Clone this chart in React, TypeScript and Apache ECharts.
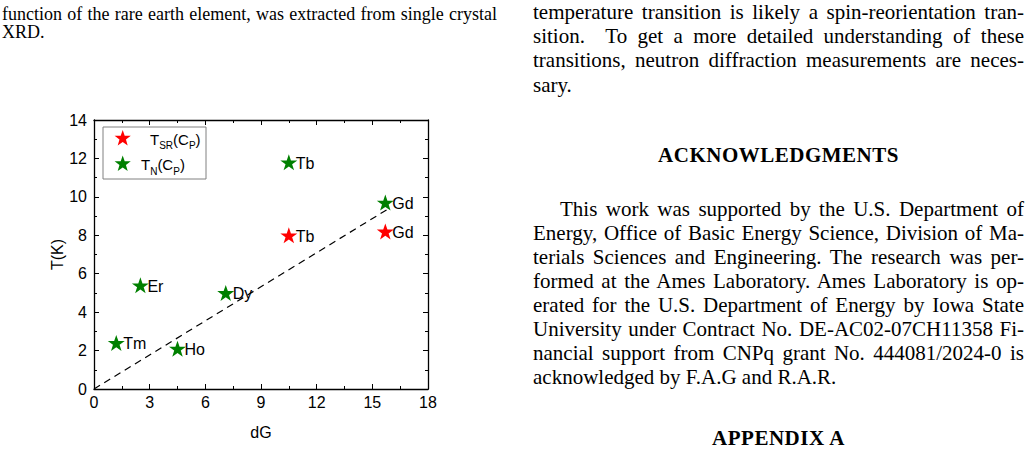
import React, { useEffect, useRef } from "react";
import * as echarts from "echarts";

// ---------------- data ----------------
const tsrPoints: [number, number, string][] = [
  [10.5, 8.0, "Tb"],
  [15.7, 8.2, "Gd"],
];
const tnPoints: [number, number, string][] = [
  [1.2, 2.4, "Tm"],
  [2.5, 5.4, "Er"],
  [4.5, 2.1, "Ho"],
  [7.1, 5.0, "Dy"],
  [10.5, 11.8, "Tb"],
  [15.7, 9.7, "Gd"],
];
const fitLine: [number, number][] = [
  [0, 0],
  [15.9, 9.4],
];
const xRange = { min: 0, max: 18, interval: 3 };
const yRange = { min: 0, max: 14, interval: 2 };
const xName = "dG";
const yName = "T(K)";

// ---------------- page text ----------------
const captionLines = [
  "function of the rare earth element, was extracted from single crystal",
  "XRD.",
];
const para1Lines = [
  "temperature transition is likely a spin-reorientation tran-",
  "sition.  To get a more detailed understanding of these",
  "transitions, neutron diffraction measurements are neces-",
  "sary.",
];
const ackTitle = "ACKNOWLEDGMENTS";
const ackLines = [
  "This work was supported by the U.S. Department of",
  "Energy, Office of Basic Energy Science, Division of Ma-",
  "terials Sciences and Engineering. The research was per-",
  "formed at the Ames Laboratory. Ames Laboratory is op-",
  "erated for the U.S. Department of Energy by Iowa State",
  "University under Contract No. DE-AC02-07CH11358 Fi-",
  "nancial support from CNPq grant No. 444081/2024-0 is",
  "acknowledged by F.A.G and R.A.R.",
];
const appendixTitle = "APPENDIX A";

const RED = "#ff0000";
const GREEN = "#008000";
const SANS = "'Liberation Sans', Arial, sans-serif";
const SERIF = "'Liberation Serif', 'Times New Roman', serif";
const STAR =
  "path://M50,0L61.8,35.1L97.6,35.1L68.5,56.7L79.4,91L50,70L20.6,91L31.5,56.7L2.4,35.1L38.2,35.1Z";

function starPoints(cx: number, cy: number, R: number): number[][] {
  const pts: number[][] = [];
  const r = R * 0.4;
  for (let i = 0; i < 10; i++) {
    const a = -Math.PI / 2 + (i * Math.PI) / 5;
    const rr = i % 2 === 0 ? R : r;
    pts.push([cx + rr * Math.cos(a), cy + rr * Math.sin(a)]);
  }
  return pts;
}

const axisCommon = {
  axisLine: { show: true, onZero: false, lineStyle: { color: "#000", width: 1.3 } },
  axisTick: { show: true, inside: true, length: 5, lineStyle: { color: "#000", width: 1 } },
  minorTick: { show: true, splitNumber: 2, length: 3, lineStyle: { color: "#000", width: 1 } },
  splitLine: { show: false },
};

const pointLabel = {
  show: true,
  position: "right",
  distance: 0,
  offset: [-1.5, 1],
  formatter: (p: any) => p.value[2],
  color: "#000",
  fontSize: 16,
  fontFamily: SANS,
};

function buildOption(): any {
  const gridLeft = 94;
  const gridTop = 120;
  const gridRight = 1030 - 428;
  const gridBottom = 453 - 389;
  return {
    animation: false,
    backgroundColor: "transparent",
    grid: { left: gridLeft, top: gridTop, right: gridRight, bottom: gridBottom, containLabel: false },
    xAxis: [
      {
        type: "value",
        position: "bottom",
        ...xRange,
        ...axisCommon,
        axisLabel: { show: true, margin: 5, color: "#000", fontSize: 16, fontFamily: SANS },
        name: xName,
        nameLocation: "middle",
        nameGap: 35,
        nameTextStyle: { color: "#000", fontSize: 16, fontFamily: SANS },
      },
      {
        type: "value",
        position: "top",
        ...xRange,
        ...axisCommon,
        axisLabel: { show: false },
      },
    ],
    yAxis: [
      {
        type: "value",
        position: "left",
        ...yRange,
        ...axisCommon,
        axisLabel: { show: true, margin: 7, color: "#000", fontSize: 16, fontFamily: SANS },
        name: yName,
        nameLocation: "middle",
        nameGap: 20,
        nameRotate: 90,
        nameTextStyle: { color: "#000", fontSize: 16, fontFamily: SANS },
      },
      {
        type: "value",
        position: "right",
        ...yRange,
        ...axisCommon,
        axisLabel: { show: false },
      },
    ],
    series: [
      {
        type: "line",
        data: fitLine,
        symbol: "none",
        silent: true,
        lineStyle: { color: "#000", width: 1.2, type: [7, 5] },
        z: 1,
      },
      {
        type: "scatter",
        name: "TSR",
        data: tsrPoints,
        symbol: STAR,
        symbolSize: [17, 16],
        itemStyle: { color: RED, opacity: 1 },
        label: pointLabel,
        z: 3,
      },
      {
        type: "scatter",
        name: "TN",
        data: tnPoints,
        symbol: STAR,
        symbolSize: [17, 16],
        itemStyle: { color: GREEN, opacity: 1 },
        label: pointLabel,
        z: 3,
      },
    ],
    graphic: [
      {
        type: "rect",
        shape: { x: 103, y: 127, width: 103, height: 52 },
        style: { fill: "#fff", stroke: "#808080", lineWidth: 1 },
        z: 10,
      },
      {
        type: "polygon",
        shape: { points: starPoints(122.7, 138.5, 8.5) },
        style: { fill: RED },
        z: 11,
      },
      {
        type: "polygon",
        shape: { points: starPoints(122.7, 164, 8.5) },
        style: { fill: GREEN },
        z: 11,
      },
      {
        type: "text",
        x: 150,
        y: 139,
        style: {
          text: "{m|T}{s|SR}{m|(C}{s|P}{m|)}",
          verticalAlign: "middle",
          rich: {
            m: { fontSize: 15, fontFamily: SANS, fill: "#000" },
            s: { fontSize: 10, fontFamily: SANS, fill: "#000", padding: [13, 0, 0, 0] },
          },
        },
        z: 11,
      },
      {
        type: "text",
        x: 141,
        y: 164.5,
        style: {
          text: "{m|T}{s|N}{m|(C}{s|P}{m|)}",
          verticalAlign: "middle",
          rich: {
            m: { fontSize: 15, fontFamily: SANS, fill: "#000" },
            s: { fontSize: 10, fontFamily: SANS, fill: "#000", padding: [13, 0, 0, 0] },
          },
        },
        z: 11,
      },
    ],
  };
}

type LineProps = {
  text: string;
  left: number;
  cy: number;
  width: number;
  size: number;
  justify?: boolean;
  center?: boolean;
  bold?: boolean;
  spacing?: number;
};

function TextLine({ text, left, cy, width, size, justify, center, bold, spacing }: LineProps) {
  const lh = Math.round(size * 1.1);
  return (
    <div
      style={{
        position: "absolute",
        left,
        top: cy - lh / 2,
        width,
        height: lh,
        lineHeight: lh + "px",
        fontFamily: SERIF,
        fontSize: size,
        fontWeight: bold ? 700 : 400,
        letterSpacing: spacing ? spacing : undefined,
        color: "#000",
        textAlign: center ? "center" : justify ? "justify" : "left",
        textAlignLast: center ? "center" : justify ? "justify" : "left",
        whiteSpace: "pre",
        overflow: "visible",
      } as any}
    >
      {text}
    </div>
  );
}

export default function App() {
  const ref = useRef<HTMLDivElement>(null);
  useEffect(() => {
    if (!ref.current) return;
    const chart = echarts.init(ref.current, null, { renderer: "svg" });
    chart.setOption(buildOption());
    return () => chart.dispose();
  }, []);

  const colX = 533;
  const colW = 491;
  const bodySize = 21;

  return (
    <div
      style={{
        position: "fixed",
        left: 0,
        top: 0,
        width: 1030,
        height: 453,
        background: "#fff",
        overflow: "hidden",
      }}
    >
      <div ref={ref} style={{ position: "absolute", left: 0, top: 0, width: 1030, height: 453 }} />
      {captionLines.map((t, i) => (
        <TextLine
          key={"c" + i}
          text={t}
          left={2}
          cy={14 + i * 18.3}
          width={495}
          size={18}
          justify={i < captionLines.length - 1}
        />
      ))}
      {para1Lines.map((t, i) => (
        <TextLine
          key={"p" + i}
          text={t}
          left={colX}
          cy={12 + i * 24.4}
          width={colW}
          size={bodySize}
          justify={i < para1Lines.length - 1}
        />
      ))}
      <TextLine text={ackTitle} left={colX} cy={155} width={colW} size={bodySize} center bold spacing={0.5} />
      {ackLines.map((t, i) => (
        <TextLine
          key={"a" + i}
          text={t}
          left={i === 0 ? 560 : colX}
          cy={209 + i * 24.1}
          width={i === 0 ? colX + colW - 560 : colW}
          size={bodySize}
          justify={i < ackLines.length - 1}
        />
      ))}
      <TextLine text={appendixTitle} left={colX} cy={438} width={colW} size={bodySize} center bold spacing={0.5} />
    </div>
  );
}
